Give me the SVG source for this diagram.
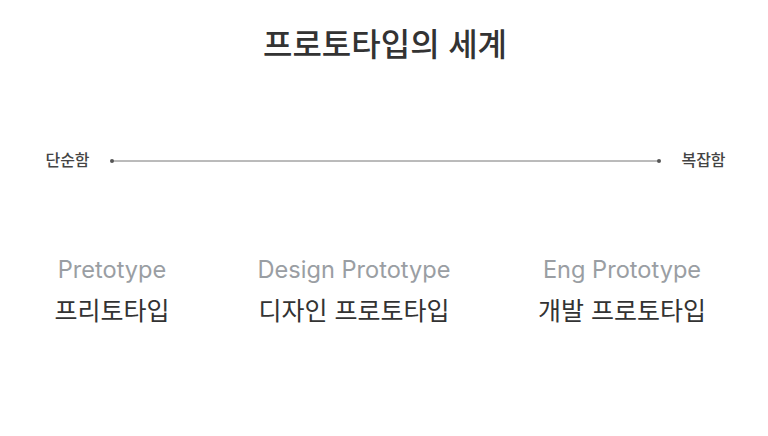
<svg xmlns="http://www.w3.org/2000/svg" width="768" height="436" viewBox="0 0 768 436">
<style>
.t{font-family:Inter,"Noto Sans CJK KR",sans-serif;}
.title{font-size:32px;font-weight:500;fill:#333;}
.end{font-size:16px;font-weight:500;fill:#444;}
.en{font-size:23.6px;fill:#9a9ea3;}
.ko{font-size:25px;fill:#333;}
</style>
<rect width="768" height="436" fill="#fff"/>
<text class="t title" x="385" y="56" text-anchor="middle">프로토타입의 세계</text>
<g id="scale-left"><text class="t end" x="67.5" y="166" text-anchor="middle">단순함</text></g>
<g id="scale-right"><text class="t end" x="703.5" y="166" text-anchor="middle">복잡함</text></g>
<g id="connectors">
<line x1="112" y1="161" x2="659" y2="161" stroke="#777" stroke-width="1"/>
<circle cx="112" cy="161" r="2" fill="#555"/>
<circle cx="659" cy="161" r="2" fill="#555"/>
</g>
<g id="pretotype">
<text class="t en" x="112" y="278" text-anchor="middle">Pretotype</text>
<text class="t ko" x="112" y="320" text-anchor="middle">프리토타입</text>
</g>
<g id="design-prototype">
<text class="t en" x="354" y="278" text-anchor="middle">Design Prototype</text>
<text class="t ko" x="354" y="320" text-anchor="middle">디자인 프로토타입</text>
</g>
<g id="eng-prototype">
<text class="t en" x="622" y="278" text-anchor="middle">Eng Prototype</text>
<text class="t ko" x="622" y="320" text-anchor="middle">개발 프로토타입</text>
</g>
</svg>
